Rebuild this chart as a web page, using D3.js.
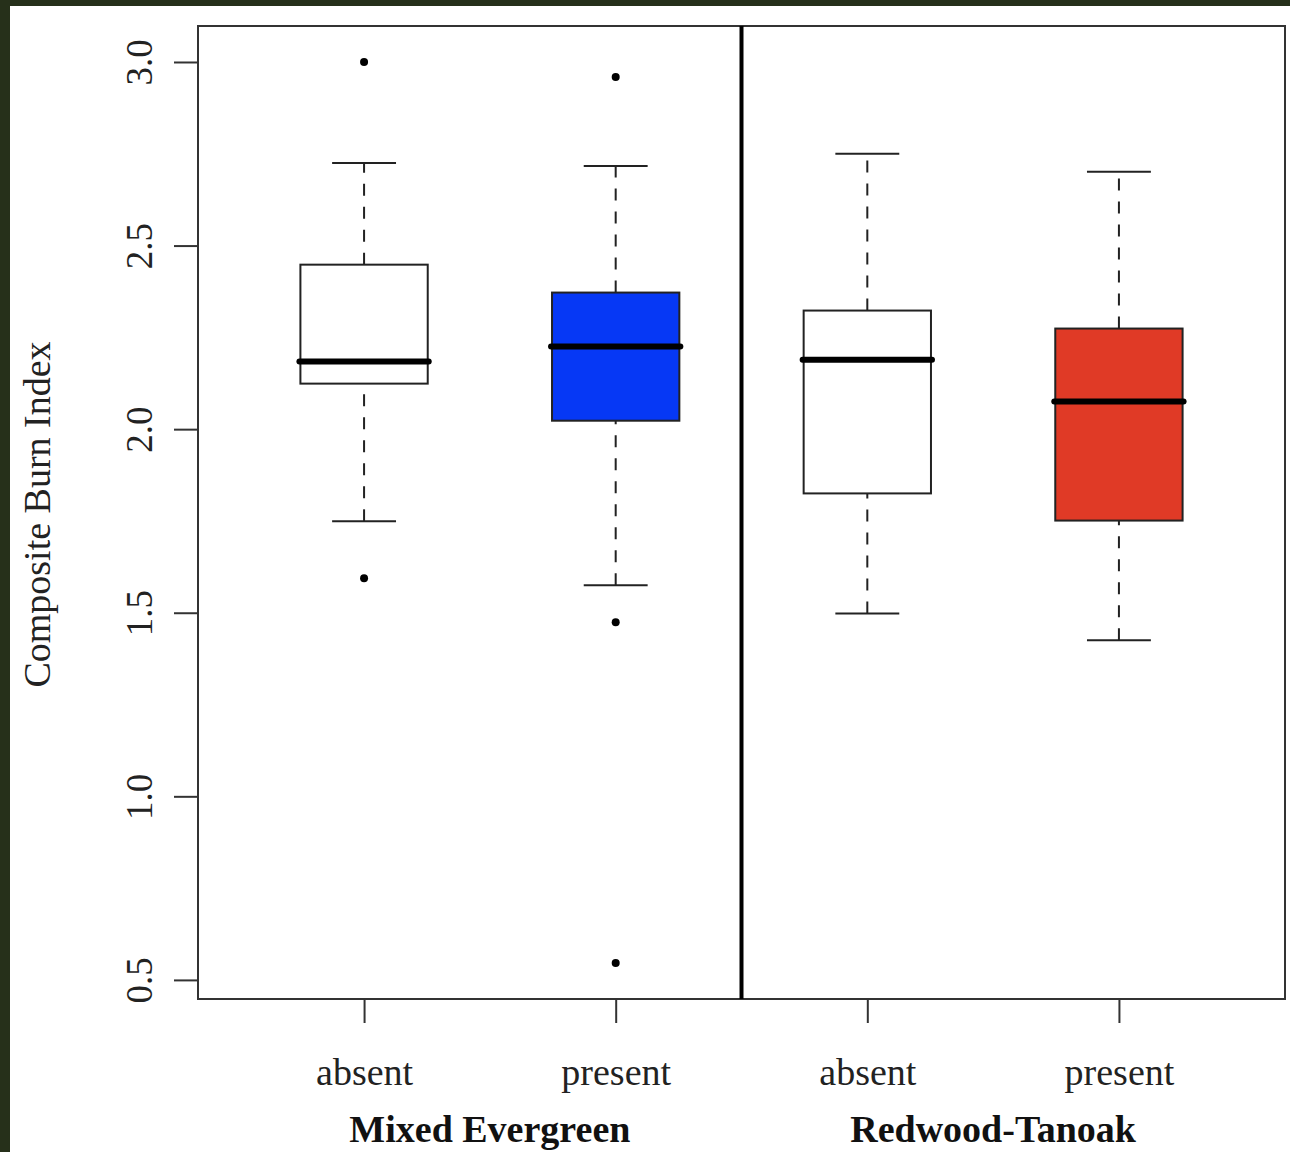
<!DOCTYPE html>
<html>
<head>
<meta charset="utf-8">
<script src="https://cdn.jsdelivr.net/npm/d3@7"></script>
<style>
html,body{margin:0;padding:0;background:#fff;}
svg{display:block;}
</style>
</head>
<body>
<svg id="chart" width="1290" height="1152"></svg>
<script>
const categories = ["absent", "present", "absent", "present"];
const groups = ["Mixed Evergreen", "Redwood-Tanoak"];
const whiskerLow = [1.749, 1.575, 1.498, 1.425];
const q1 = [2.124, 2.023, 1.825, 1.751];
const median = [2.184, 2.225, 2.189, 2.075];
const q3 = [2.448, 2.372, 2.323, 2.274];
const whiskerHigh = [2.725, 2.717, 2.750, 2.701];
const outliers = [[3.0, 1.594], [2.959, 1.474, 0.546], [], []];
const fills = ["#ffffff", "#0638f5", "#ffffff", "#e03a26"];
const yTicks = [0.5, 1.0, 1.5, 2.0, 2.5, 3.0];

const svg = d3.select("#chart");
// dark frame of the picture (top and left)
svg.append("rect").attr("x",0).attr("y",0).attr("width",1290).attr("height",1152).attr("fill","#26301a");
svg.append("rect").attr("x",10).attr("y",6).attr("width",1280).attr("height",1146).attr("fill","#ffffff");

const L = 198, R = 1285, T = 26, B = 999;
const x = d3.scaleLinear().domain([0.34, 4.66]).range([L, R]);
const y = d3.scaleLinear().domain([0.448, 3.098]).range([B, T]);
const font = "'Liberation Serif','Times New Roman',serif";
const stroke = "#222";

const boxHalf = 0.253, capHalf = 0.127;

const g = svg.append("g");
categories.forEach((c, i) => {
  const cx = x(i + 1);
  // whiskers
  [[q3[i], whiskerHigh[i]], [whiskerLow[i], q1[i]]].forEach(([a, b]) => {
    g.append("line").attr("x1", cx).attr("x2", cx).attr("y1", y(a)).attr("y2", y(b))
      .attr("stroke", stroke).attr("stroke-width", 2).attr("stroke-dasharray", "12,11");
  });
  [whiskerLow[i], whiskerHigh[i]].forEach(v => {
    g.append("line").attr("x1", x(i + 1 - capHalf)).attr("x2", x(i + 1 + capHalf))
      .attr("y1", y(v)).attr("y2", y(v)).attr("stroke", stroke).attr("stroke-width", 2);
  });
  g.append("rect").attr("x", x(i + 1 - boxHalf)).attr("y", y(q3[i]))
    .attr("width", x(i + 1 + boxHalf) - x(i + 1 - boxHalf)).attr("height", y(q1[i]) - y(q3[i]))
    .attr("fill", fills[i]).attr("stroke", stroke).attr("stroke-width", 2);
  g.append("line").attr("x1", x(i + 1 - boxHalf) - 1).attr("x2", x(i + 1 + boxHalf) + 1)
    .attr("y1", y(median[i])).attr("y2", y(median[i]))
    .attr("stroke", "#000").attr("stroke-width", 6).attr("stroke-linecap", "round");
  outliers[i].forEach(v => {
    g.append("circle").attr("cx", cx).attr("cy", y(v)).attr("r", 4).attr("fill", "#000");
  });
});

// frame
svg.append("rect").attr("x", L).attr("y", T).attr("width", R - L).attr("height", B - T)
  .attr("fill", "none").attr("stroke", "#333").attr("stroke-width", 2);
// divider
svg.append("line").attr("x1", x(2.5)).attr("x2", x(2.5)).attr("y1", T).attr("y2", B)
  .attr("stroke", "#000").attr("stroke-width", 4);

// y axis
const yAxis = svg.append("g").attr("transform", `translate(${L},0)`)
  .call(d3.axisLeft(y).tickValues(yTicks).tickSize(24).tickFormat(d3.format(".1f")));
yAxis.select(".domain").remove();
yAxis.selectAll(".tick line").attr("stroke", "#333").attr("stroke-width", 2);
yAxis.selectAll(".tick text")
  .attr("transform", "rotate(-90)").attr("x", 0).attr("y", -46).attr("dy", 0)
  .attr("text-anchor", "middle")
  .style("font-family", font).style("font-size", "37px").attr("fill", "#222");

// x axis
const xAxis = svg.append("g").attr("transform", `translate(0,${B})`)
  .call(d3.axisBottom(x).tickValues([1, 2, 3, 4]).tickSize(24).tickFormat(d => categories[d - 1]));
xAxis.select(".domain").remove();
xAxis.selectAll(".tick line").attr("stroke", "#333").attr("stroke-width", 2);
xAxis.selectAll(".tick text").attr("y", 86).attr("dy", 0)
  .style("font-family", font).style("font-size", "38px").attr("fill", "#222");

// group labels
groups.forEach((gname, j) => {
  svg.append("text").attr("x", x(1.5 + 2 * j)).attr("y", 1142).attr("text-anchor", "middle")
    .style("font-family", font).style("font-size", "38px").style("font-weight", "bold")
    .attr("fill", "#111").text(gname);
});

// y title
svg.append("text").attr("transform", `translate(50,${(T + B) / 2 + 2}) rotate(-90)`)
  .attr("text-anchor", "middle").style("font-family", font).style("font-size", "38px")
  .attr("fill", "#222").text("Composite Burn Index");
</script>
</body>
</html>
